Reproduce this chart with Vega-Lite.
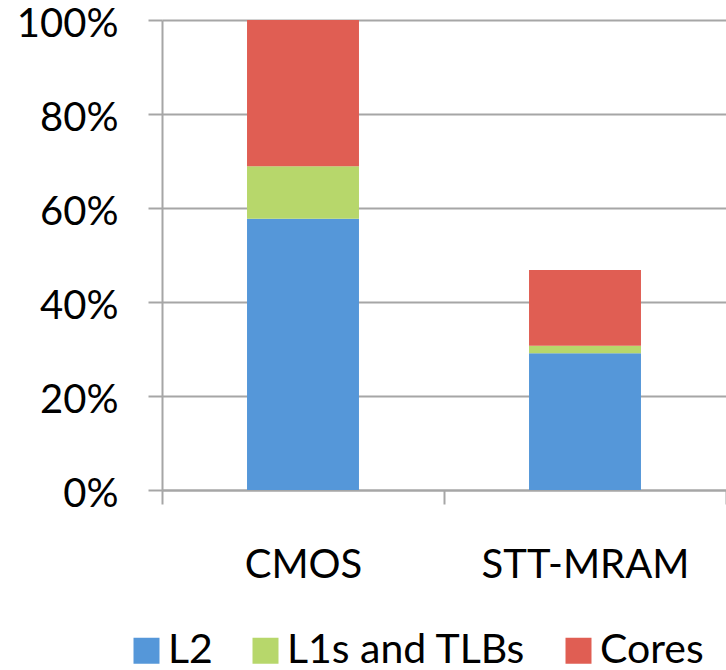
{
  "$schema": "https://vega.github.io/schema/vega-lite/v6.json",
  "width": 564,
  "height": 470,
  "autosize": {"type": "none"},
  "padding": {"left": 162, "top": 20, "right": 0, "bottom": 180},
  "background": "white",
  "data": {
    "values": [
      {"tech": "CMOS", "part": "L2", "rank": 1, "share": 57.7},
      {"tech": "CMOS", "part": "L1s and TLBs", "rank": 2, "share": 11.2},
      {"tech": "CMOS", "part": "Cores", "rank": 3, "share": 31.1},
      {"tech": "STT-MRAM", "part": "L2", "rank": 1, "share": 29.1},
      {"tech": "STT-MRAM", "part": "L1s and TLBs", "rank": 2, "share": 1.6},
      {"tech": "STT-MRAM", "part": "Cores", "rank": 3, "share": 16.1}
    ]
  },
  "mark": {"type": "bar", "width": {"band": 0.397}, "stroke": null},
  "encoding": {
    "x": {
      "field": "tech",
      "type": "nominal",
      "sort": ["CMOS", "STT-MRAM"],
      "scale": {"paddingInner": 0, "paddingOuter": 0},
      "axis": {
        "title": null,
        "labelAngle": 0,
        "tickBand": "extent",
        "tickSize": 14,
        "tickColor": "#a6a6a6",
        "tickWidth": 2,
        "domainColor": "#a6a6a6",
        "domainWidth": 2,
        "labelPadding": 41,
        "labelFont": "Lato",
        "labelFontSize": 40,
        "labelColor": "#000000",
        "labelLimit": 400
      }
    },
    "y": {
      "field": "share",
      "type": "quantitative",
      "stack": "zero",
      "scale": {"domain": [0, 100], "nice": false},
      "axis": {
        "title": null,
        "values": [0, 20, 40, 60, 80, 100],
        "labelExpr": "datum.value + '%'",
        "grid": true,
        "gridColor": "#a6a6a6",
        "gridWidth": 2,
        "tickSize": 14,
        "tickColor": "#a6a6a6",
        "tickWidth": 2,
        "domainColor": "#a6a6a6",
        "domainWidth": 2,
        "labelPadding": 30,
        "labelFont": "Lato",
        "labelFontSize": 40,
        "labelColor": "#000000",
        "labelBaseline": "middle",
        "labelOffset": 4
      }
    },
    "color": {
      "field": "part",
      "type": "nominal",
      "scale": {
        "domain": ["L2", "L1s and TLBs", "Cores"],
        "range": ["#5597d9", "#b7d76b", "#e05e53"]
      },
      "legend": {
        "title": null,
        "orient": "none",
        "direction": "horizontal",
        "legendX": -36,
        "legendY": 610,
        "symbolType": "square",
        "symbolSize": 676,
        "symbolStrokeWidth": 0,
        "labelFont": "Lato",
        "labelFontSize": 41,
        "labelColor": "#000000",
        "labelOffset": 1,
        "columnPadding": 32,
        "labelLimit": 400
      }
    },
    "order": {"field": "rank", "type": "quantitative"}
  },
  "config": {"view": {"stroke": null}}
}
